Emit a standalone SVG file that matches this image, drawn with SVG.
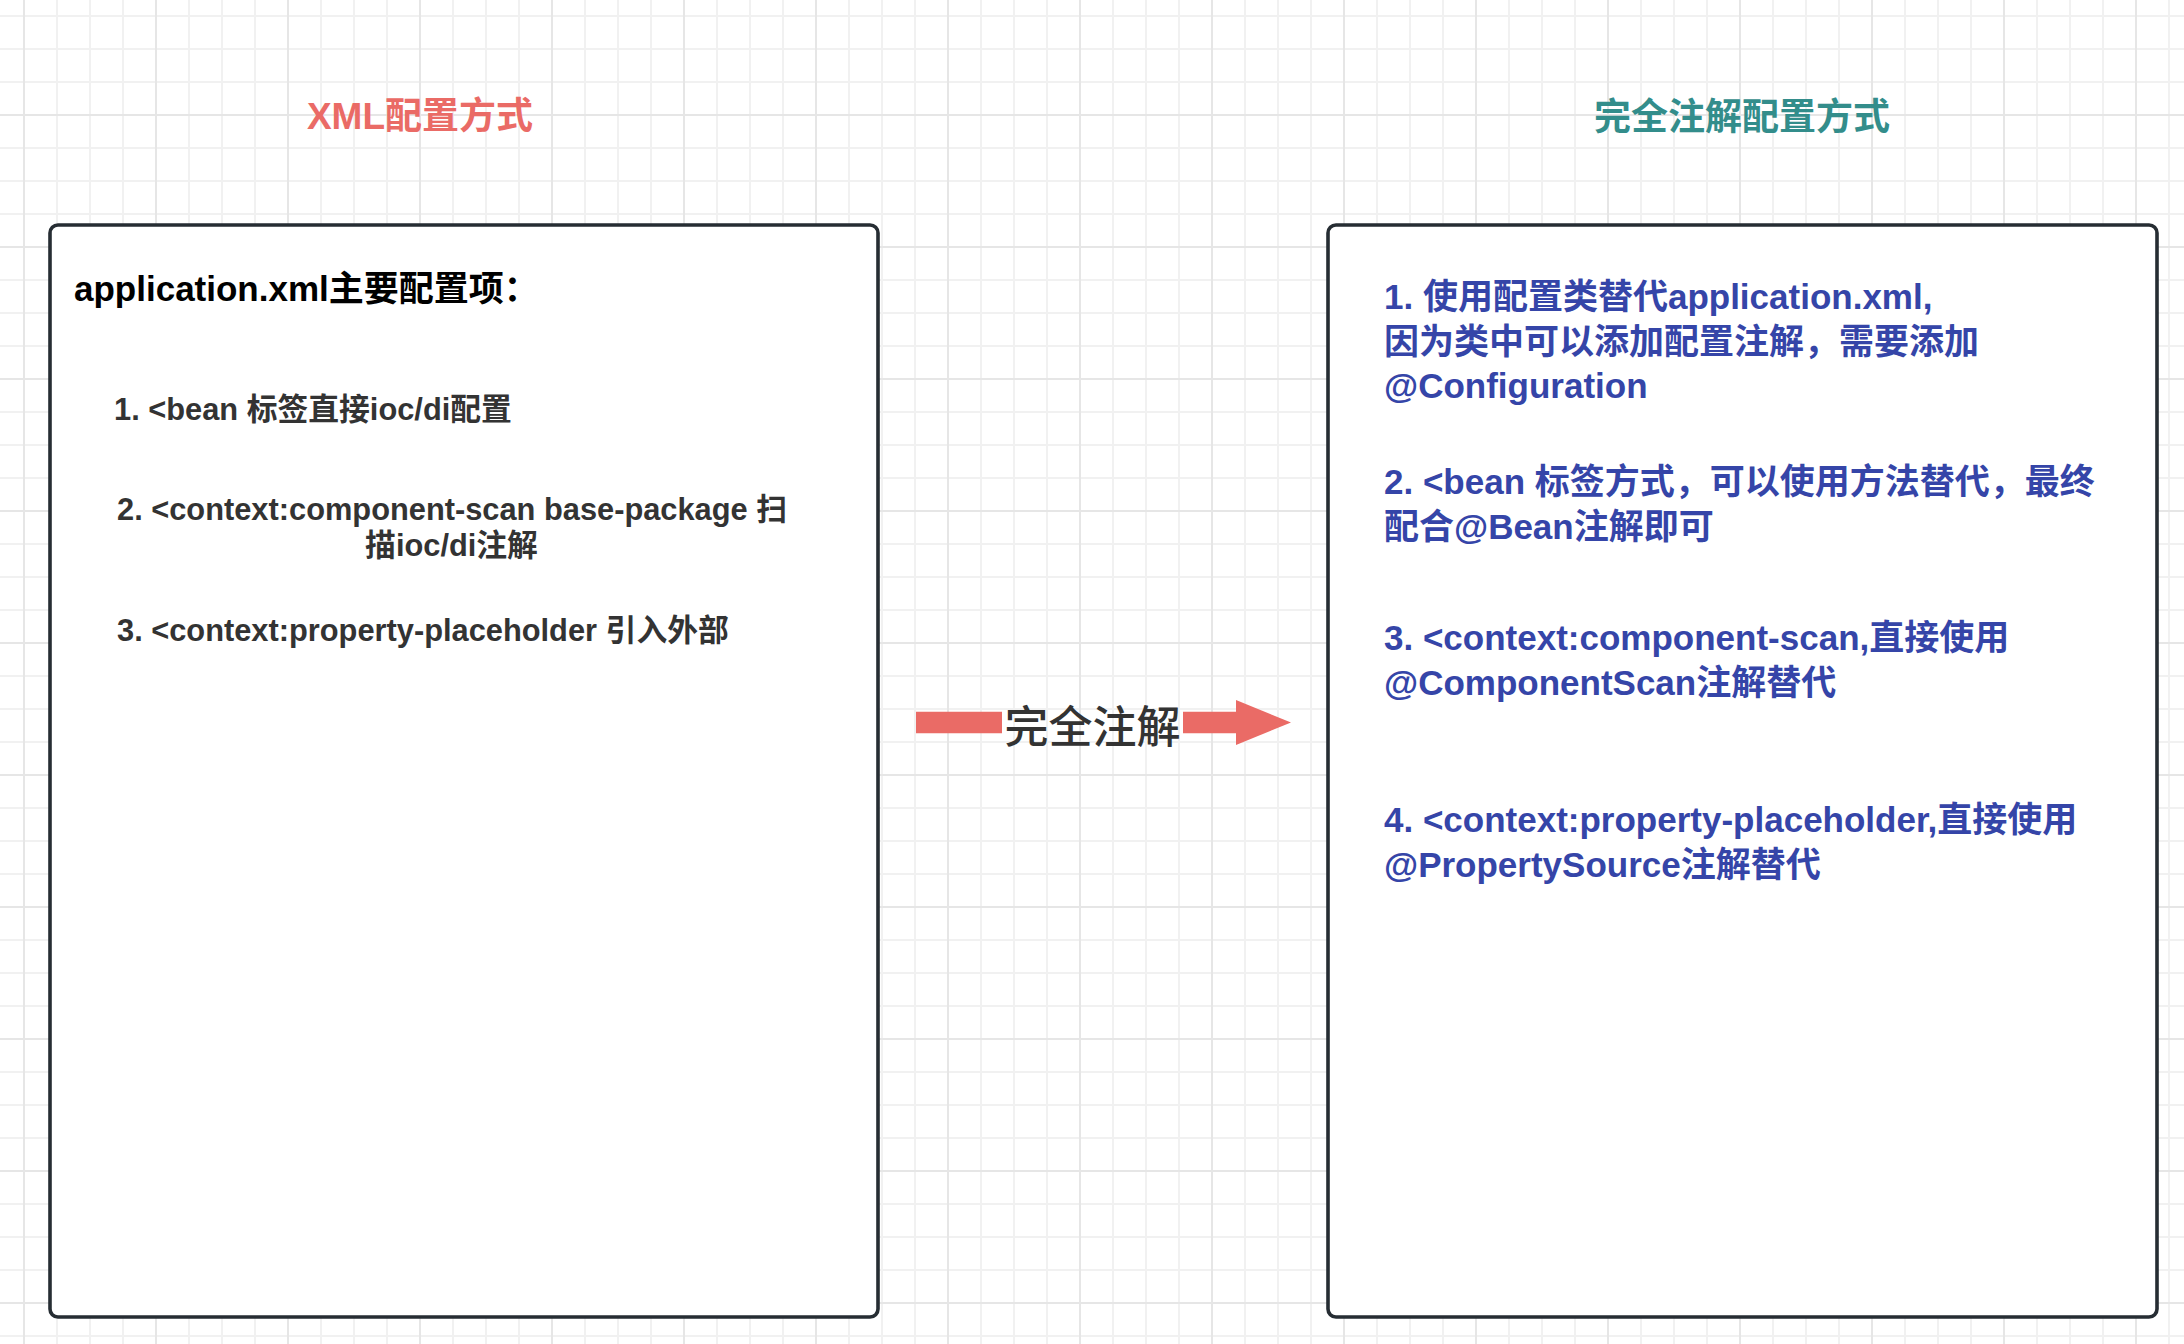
<svg xmlns="http://www.w3.org/2000/svg" width="2184" height="1344" viewBox="0 0 2184 1344">
  <defs>
    <pattern id="grid" patternUnits="userSpaceOnUse" x="23" y="114" width="132" height="132">
      <rect x="0" y="0" width="132" height="132" fill="#ffffff"/>
      <rect x="33" y="0" width="2" height="132" fill="#f1f1f1"/>
      <rect x="66" y="0" width="2" height="132" fill="#f1f1f1"/>
      <rect x="99" y="0" width="2" height="132" fill="#f1f1f1"/>
      <rect x="0" y="33" width="132" height="2" fill="#f1f1f1"/>
      <rect x="0" y="66" width="132" height="2" fill="#f1f1f1"/>
      <rect x="0" y="99" width="132" height="2" fill="#f1f1f1"/>
      <rect x="0" y="0" width="2" height="132" fill="#e6e6e6"/>
      <rect x="0" y="0" width="132" height="2" fill="#e6e6e6"/>
    </pattern>
    <marker id="blockHead" markerUnits="userSpaceOnUse" markerWidth="56" markerHeight="46" refX="0" refY="22.5" orient="auto">
      <path d="M0,0 L55,22.5 L0,45 Z" fill="#EA6B66"/>
    </marker>
    <style>
      text { font-family: 'Liberation Sans', 'Noto Sans CJK SC', sans-serif; }
      .box { fill: #ffffff; stroke: #262d33; stroke-width: 3.6; }
      .title { font-size: 37px; font-weight: bold; text-anchor: middle; }
      .head { font-size: 35px; font-weight: bold; fill: #000000; }
      .item { font-size: 30.8px; font-weight: bold; fill: #333333; }
      .blue { font-size: 35px; font-weight: bold; fill: #3545a8; }
      .shaft { fill: none; stroke: #EA6B66; stroke-width: 21.6; stroke-linecap: butt; }
      .elabel { font-size: 44px; font-weight: 500; fill: #333333; text-anchor: middle; }
    </style>
  </defs>

  <rect x="0" y="0" width="2184" height="1344" fill="url(#grid)"/>

  <g id="title-xml">
    <text class="title" x="420" y="129" fill="#EA6B66">XML配置方式</text>
  </g>

  <g id="title-annotation">
    <text class="title" x="1742" y="130" fill="#338d8b">完全注解配置方式</text>
  </g>

  <g id="box-xml">
    <rect class="box" x="50" y="225" width="828" height="1092" rx="8" ry="8"/>
    <text class="head" x="74" y="301">application.xml主要配置项：</text>
    <text class="item" x="114" y="420">1. &lt;bean 标签直接ioc/di配置</text>
    <text class="item" x="117" y="520">2. &lt;context:component-scan base-package 扫</text>
    <text class="item" x="451.5" y="556" text-anchor="middle">描ioc/di注解</text>
    <text class="item" x="117" y="641">3. &lt;context:property-placeholder 引入外部</text>
  </g>

  <g id="box-annotation">
    <rect class="box" x="1328" y="225" width="829" height="1092" rx="8" ry="8"/>
    <text class="blue" x="1384" y="309">1. 使用配置类替代application.xml,</text>
    <text class="blue" x="1384" y="354">因为类中可以添加配置注解，需要添加</text>
    <text class="blue" x="1384" y="398">@Configuration</text>
    <text class="blue" x="1384" y="494">2. &lt;bean 标签方式，可以使用方法替代，最终</text>
    <text class="blue" x="1384" y="539">配合@Bean注解即可</text>
    <text class="blue" x="1384" y="650">3. &lt;context:component-scan,直接使用</text>
    <text class="blue" x="1384" y="695">@ComponentScan注解替代</text>
    <text class="blue" x="1384" y="832">4. &lt;context:property-placeholder,直接使用</text>
    <text class="blue" x="1384" y="877">@PropertySource注解替代</text>
  </g>

  <g id="connectors">
    <g id="edge-xml-to-annotation">
      <path class="shaft" d="M916,722.5 H1002"/>
      <path class="shaft" d="M1183,722.5 H1236" marker-end="url(#blockHead)"/>
      <text class="elabel" x="1092.5" y="743">完全注解</text>
    </g>
  </g>
</svg>
